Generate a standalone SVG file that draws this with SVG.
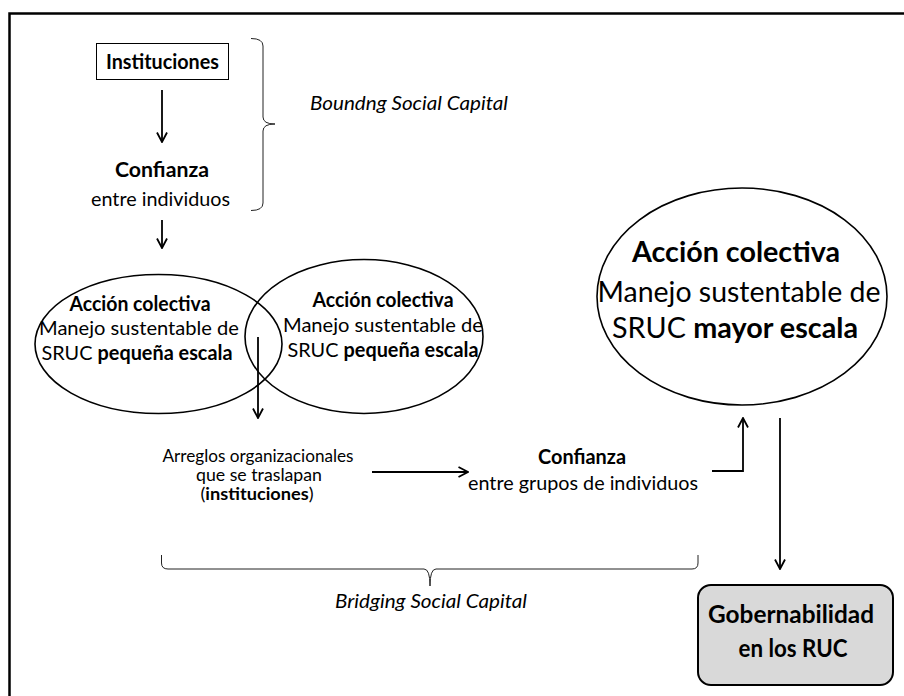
<svg xmlns="http://www.w3.org/2000/svg" width="904" height="696" viewBox="0 0 904 696">
  <style>
    text { font-family: "Lato", "Liberation Sans", sans-serif; fill: #000; }
    .b { font-weight: bold; }
    .i { font-style: italic; }
    .m { text-anchor: middle; }
    .n19 { font-size: 20px; }
    .n16 { font-size: 16.8px; }
    .n27 { font-size: 29px; }
    .n23 { font-size: 24.5px; }
    .shape { fill: none; stroke: #000; stroke-width: 1.6; }
    .conn { fill: none; stroke: #000; stroke-width: 1.8; }
    .brace { fill: none; stroke: #222; stroke-width: 1; }
  </style>
  <defs>
    <marker id="arrow" viewBox="-11 -6 12 12" refX="0" refY="0" markerWidth="12" markerHeight="12" markerUnits="userSpaceOnUse" orient="auto">
      <path d="M-9.5,-5 L0,0 L-9.5,5" fill="none" stroke="#000" stroke-width="1.8"/>
    </marker>
  </defs>

  <rect width="904" height="696" fill="#fff"/>
  <!-- outer frame (runs off the right and bottom edges) -->
  <path d="M9.5,700 V13.5 H910" fill="none" stroke="#000" stroke-width="2.5"/>

  <g id="instituciones">
    <rect x="96.5" y="43.5" width="132" height="36" fill="#fff" stroke="#000" stroke-width="1"/>
    <text class="b m n19" x="162.5" y="69" textLength="113" lengthAdjust="spacingAndGlyphs">Instituciones</text>
  </g>

  <g id="confianza-individuos">
    <text class="b m n19" x="162" y="177" textLength="94" lengthAdjust="spacingAndGlyphs">Confianza</text>
    <text class="m n19" x="160.5" y="206" textLength="139" lengthAdjust="spacingAndGlyphs">entre individuos</text>
  </g>

  <g id="bounding">
    <path class="brace" d="M251,38.5 Q263,38.5 263,46 V117 Q263,124 275,124 Q263,124 263,131 V203 Q263,210.5 251,210.5"/>
    <text class="i n19" x="310" y="110" textLength="198" lengthAdjust="spacingAndGlyphs">Boundng Social Capital</text>
  </g>

  <g id="accion-pequena-1">
    <ellipse class="shape" cx="158.5" cy="344" rx="123.5" ry="69.5"/>
    <text class="b m n19" x="140" y="311" textLength="141" lengthAdjust="spacingAndGlyphs">Acción colectiva</text>
    <text class="m n19" x="139" y="335" textLength="200" lengthAdjust="spacingAndGlyphs">Manejo sustentable de</text>
    <text class="m n19" x="137" y="360" textLength="191" lengthAdjust="spacingAndGlyphs">SRUC <tspan class="b">pequeña escala</tspan></text>
  </g>

  <g id="accion-pequena-2">
    <ellipse class="shape" cx="364" cy="336.5" rx="119" ry="77"/>
    <text class="b m n19" x="383" y="307" textLength="141" lengthAdjust="spacingAndGlyphs">Acción colectiva</text>
    <text class="m n19" x="383" y="332" textLength="200" lengthAdjust="spacingAndGlyphs">Manejo sustentable de</text>
    <text class="m n19" x="383" y="357" textLength="191" lengthAdjust="spacingAndGlyphs">SRUC <tspan class="b">pequeña escala</tspan></text>
  </g>

  <g id="arreglos">
    <text class="m n16" x="258" y="462" textLength="191" lengthAdjust="spacingAndGlyphs">Arreglos organizacionales</text>
    <text class="m n16" x="259" y="481" textLength="126" lengthAdjust="spacingAndGlyphs">que se traslapan</text>
    <text class="m n16" x="257" y="500" textLength="113" lengthAdjust="spacingAndGlyphs">(<tspan class="b">instituciones</tspan>)</text>
  </g>

  <g id="confianza-grupos">
    <text class="b m n19" x="582" y="464" textLength="88" lengthAdjust="spacingAndGlyphs">Confianza</text>
    <text class="m n19" x="583" y="490" textLength="230" lengthAdjust="spacingAndGlyphs">entre grupos de individuos</text>
  </g>

  <g id="accion-mayor">
    <ellipse class="shape" cx="742" cy="296.5" rx="145" ry="108.5"/>
    <text class="b m n27" x="736" y="262" textLength="208" lengthAdjust="spacingAndGlyphs">Acción colectiva</text>
    <text class="m n27" x="739" y="302" textLength="283" lengthAdjust="spacingAndGlyphs">Manejo sustentable de</text>
    <text class="m n27" x="735" y="338" textLength="246" lengthAdjust="spacingAndGlyphs">SRUC <tspan class="b">mayor escala</tspan></text>
  </g>

  <g id="gobernabilidad">
    <rect x="698" y="585" width="195" height="100" rx="13" ry="13" fill="#d9d9d9" stroke="#000" stroke-width="2"/>
    <text class="b m n23" x="791" y="623" textLength="166" lengthAdjust="spacingAndGlyphs">Gobernabilidad</text>
    <text class="b m n23" x="793" y="657" textLength="109" lengthAdjust="spacingAndGlyphs">en los RUC</text>
  </g>

  <g id="bridging">
    <path class="brace" d="M161.5,555 V563 Q161.5,569 168,569 H424 Q430,569 430,586 Q430,569 436,569 H692 Q698,569 698,563 V555"/>
    <text class="i m n19" x="431" y="608" textLength="192" lengthAdjust="spacingAndGlyphs">Bridging Social Capital</text>
  </g>

  <g id="connectors">
    <line class="conn" x1="162" y1="90" x2="162" y2="142" marker-end="url(#arrow)"/>
    <line class="conn" x1="162" y1="220" x2="162" y2="248" marker-end="url(#arrow)"/>
    <line class="conn" x1="258" y1="337" x2="258" y2="418" marker-end="url(#arrow)"/>
    <line class="conn" x1="372" y1="472" x2="468" y2="472" marker-end="url(#arrow)"/>
    <polyline class="conn" points="712,471 743,471 743,418" marker-end="url(#arrow)"/>
    <line class="conn" x1="780" y1="418" x2="780" y2="569" marker-end="url(#arrow)"/>
  </g>
</svg>
